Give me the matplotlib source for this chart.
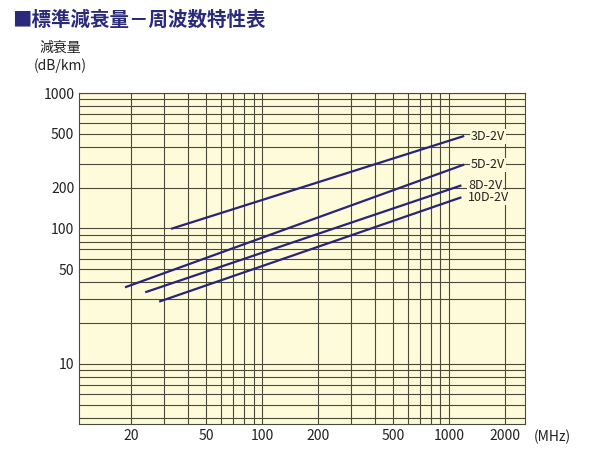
import matplotlib.pyplot as plt
from matplotlib.ticker import FixedLocator, LogLocator, NullFormatter

plt.rcParams['font.family'] = ['Noto Sans CJK JP', 'DejaVu Sans']

cables = ["3D-2V", "5D-2V", "8D-2V", "10D-2V"]
freq_start = [33, 18.7, 24, 28.5]
freq_end = [1190, 1190, 1150, 1150]
att_start = [100, 37, 34, 29]
att_end = [480, 295, 207, 169]

xticks = [20, 50, 100, 200, 500, 1000, 2000]
yticks = [10, 50, 100, 200, 500, 1000]

fig = plt.figure(figsize=(6, 4.5), dpi=100)
ax = fig.add_axes([0.132, 0.058, 0.743, 0.735])
ax.set_facecolor('#fdfbd9')
ax.set_xscale('log')
ax.set_yscale('log')
ax.set_xlim(10.5, 2550)
ax.set_ylim(3.6, 1000)

for name, x0, x1, y0, y1 in zip(cables, freq_start, freq_end, att_start, att_end):
    ax.plot([x0, x1], [y0, y1], color='#2a2478', lw=1.6)
    ax.text(x1 * 1.1, y1, name, fontsize=9, va='center', ha='left', color='#222',
            bbox=dict(facecolor='#fdfbd9', edgecolor='none', pad=0.5))

ax.xaxis.set_major_locator(FixedLocator(xticks))
ax.xaxis.set_minor_locator(LogLocator(subs=range(1, 10)))
ax.yaxis.set_major_locator(FixedLocator(yticks))
ax.yaxis.set_minor_locator(LogLocator(subs=range(1, 10)))
ax.xaxis.set_minor_formatter(NullFormatter())
ax.yaxis.set_minor_formatter(NullFormatter())
ax.set_xticklabels([str(v) for v in xticks])
ax.set_yticklabels([str(v) for v in yticks])
ax.tick_params(which='both', length=0, labelsize=10, colors='#222')
ax.grid(which='both', color='#4a4a3a', lw=0.8)
for s in ax.spines.values():
    s.set_color('#4a4a3a')

fig.text(0.89, 0.028, '(MHz)', fontsize=10, va='center', color='#222')
fig.text(0.1, 0.885, '減衰量', fontsize=10, ha='center', color='#222')
fig.text(0.1, 0.845, '(dB/km)', fontsize=10, ha='center', color='#222')
fig.text(0.02, 0.955, '■標準減衰量－周波数特性表', fontsize=14, fontweight='bold',
         color='#2a2a7a', va='center')

fig.savefig('out.png', dpi=100)
